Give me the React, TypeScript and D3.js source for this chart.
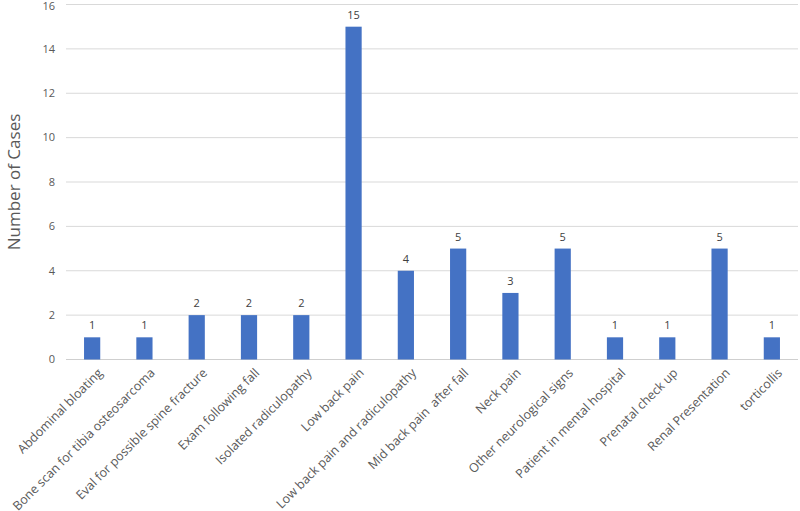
import { useEffect, useRef } from 'react'
import * as d3 from 'd3'

const categories = [
  'Abdominal bloating',
  'Bone scan for tibia osteosarcoma',
  'Eval for possible spine fracture',
  'Exam following fall',
  'Isolated radiculopathy',
  'Low back pain',
  'Low back pain and radiculopathy',
  'Mid back pain  after fall',
  'Neck pain',
  'Other neurological signs',
  'Patient in mental hospital',
  'Prenatal check up',
  'Renal Presentation',
  'torticollis',
]
const cases = [1, 1, 2, 2, 2, 15, 4, 5, 3, 5, 1, 1, 5, 1]
const yTicks = [0, 2, 4, 6, 8, 10, 12, 14, 16]

export default function App() {
  const svgRef = useRef<SVGSVGElement>(null)

  useEffect(() => {
    if (!svgRef.current) return
    const width = 800
    const height = 511
    const margin = { top: 4.5, right: 2, bottom: 151.5, left: 66 }
    const font = '"Open Sans", "Noto Sans", sans-serif'

    const svg = d3.select(svgRef.current)
    svg.selectAll('*').remove()

    const x = d3.scaleBand()
      .domain(categories)
      .range([margin.left, width - margin.right])
      .paddingInner(0.69)
      .paddingOuter(0.345)

    const y = d3.scaleLinear()
      .domain([0, 16])
      .range([height - margin.bottom, margin.top])

    // gridlines
    svg.append('g')
      .selectAll('line')
      .data(yTicks)
      .join('line')
      .attr('x1', margin.left)
      .attr('x2', width - margin.right)
      .attr('y1', d => y(d))
      .attr('y2', d => y(d))
      .attr('stroke', d => (d === 0 ? '#cfcfcf' : '#d9d9d9'))
      .attr('stroke-width', 1)

    // y tick labels
    svg.append('g')
      .selectAll('text')
      .data(yTicks)
      .join('text')
      .attr('x', 55)
      .attr('y', d => Math.max(y(d), 6))
      .attr('dy', '0.35em')
      .attr('text-anchor', 'end')
      .attr('font-family', font)
      .attr('font-size', '11px')
      .attr('fill', '#595959')
      .text(d => d)

    // bars
    svg.append('g')
      .selectAll('rect')
      .data(categories)
      .join('rect')
      .attr('x', d => x(d)!)
      .attr('y', (d, i) => y(cases[i]))
      .attr('width', x.bandwidth())
      .attr('height', (d, i) => y(0) - y(cases[i]))
      .attr('fill', '#4472c4')

    // value labels
    svg.append('g')
      .selectAll('text')
      .data(categories)
      .join('text')
      .attr('x', d => x(d)! + x.bandwidth() / 2)
      .attr('y', (d, i) => y(cases[i]) - 8)
      .attr('text-anchor', 'middle')
      .attr('font-family', font)
      .attr('font-size', '11px')
      .attr('fill', '#404040')
      .text((d, i) => cases[i])

    // category labels
    svg.append('g')
      .selectAll('text')
      .data(categories)
      .join('text')
      .attr('transform', d => `translate(${x(d)! + x.bandwidth() / 2 + 5},${y(0) + 8}) rotate(-45)`)
      .attr('dy', '0.7em')
      .attr('text-anchor', 'end')
      .attr('font-family', font)
      .attr('font-size', '12.5px')
      .attr('fill', '#595959')
      .style('white-space', 'pre')
      .text(d => d)

    // y axis title
    svg.append('text')
      .attr('transform', `translate(14,${(y(0) + y(16)) / 2}) rotate(-90)`)
      .attr('text-anchor', 'middle')
      .attr('dy', '0.35em')
      .attr('font-family', font)
      .attr('font-size', '17px')
      .attr('fill', '#595959')
      .text('Number of Cases')
  }, [])

  return (
    <svg
      ref={svgRef}
      width={800}
      height={511}
      style={{ position: 'absolute', left: 0, top: 0, background: '#fff' }}
    />
  )
}
